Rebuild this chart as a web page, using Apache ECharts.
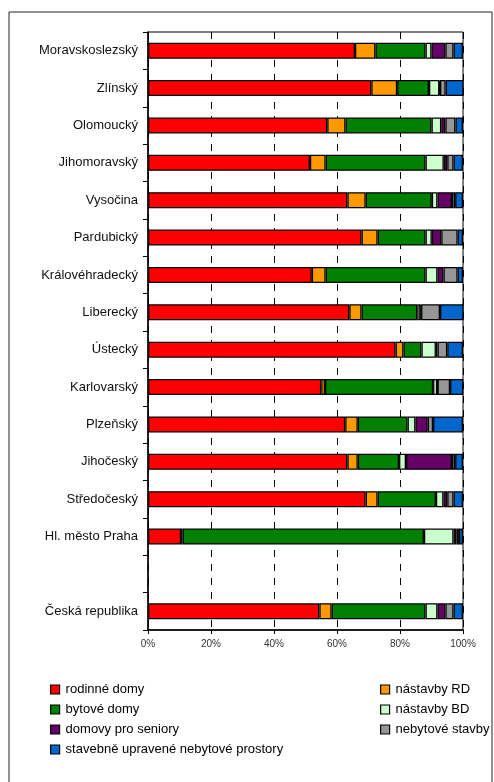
<!DOCTYPE html>
<html>
<head>
<meta charset="utf-8">
<script src="https://cdn.jsdelivr.net/npm/echarts@6/dist/echarts.min.js"></script>
<style>
html,body{margin:0;padding:0;background:#fff;}
#c{width:494px;height:782px;}
</style>
</head>
<body>
<div id="c"></div>
<script>
const categories = ['Moravskoslezský','Zlínský','Olomoucký','Jihomoravský','Vysočina','Pardubický','Královéhradecký','Liberecký','Ústecký','Karlovarský','Plzeňský','Jihočeský','Středočeský','Hl. město Praha','','Česká republika'];

const rodinneDomy   = [65.7, 70.9, 56.9, 51.4, 63.3, 67.8, 52.0, 63.9, 78.6, 55.0, 62.6, 63.3, 69.1, 10.5, null, 54.4];
const nastavbyRD    = [ 6.5,  8.2,  5.8,  5.0,  5.8,  5.1,  4.4,  3.9,  2.5,  1.2,  4.0,  3.3,  3.8,  0.5, null,  3.9];
const bytoveDomy    = [15.9, 10.1, 27.3, 31.7, 21.0, 15.2, 31.7, 17.7,  5.7, 34.3, 15.8, 13.1, 18.5, 76.6, null, 29.8];
const nastavbyBD    = [ 1.9,  3.3,  3.1,  5.8,  1.8,  2.0,  3.8,  1.0,  4.6,  1.3,  2.5,  2.2,  2.4,  9.4, null,  3.8];
const domovySeniory = [ 4.4,  0.2,  1.3,  1.1,  4.6,  3.0,  1.9,  0.2,  0.5,  0.1,  3.9, 14.6,  1.2,  0.9, null,  2.5];
const nebytoveStavby= [ 2.6,  1.8,  3.2,  2.0,  1.0,  5.2,  4.5,  6.0,  3.1,  4.0,  1.7,  1.0,  2.0,  0.8, null,  2.6];
const stavebneUpr   = [ 3.0,  5.7,  2.4,  3.0,  2.5,  1.7,  1.7,  7.5,  5.0,  4.2,  9.5,  2.5,  3.0,  1.3, null,  3.0];

const xTicks = [0, 20, 40, 60, 80, 100];

const seriesDefs = [
  ['rodinné domy', rodinneDomy, '#FF0000'],
  ['nástavby RD', nastavbyRD, '#FF9900'],
  ['bytové domy', bytoveDomy, '#008000'],
  ['nástavby BD', nastavbyBD, '#CCFFCC'],
  ['domovy pro seniory', domovySeniory, '#660066'],
  ['nebytové stavby', nebytoveStavby, '#969696'],
  ['stavebně upravené nebytové prostory', stavebneUpr, '#0066CC']
];

const chart = echarts.init(document.getElementById('c'), null, {renderer:'canvas'});
const FONT = 'Liberation Sans, Arial, sans-serif';

const legendCommon = {
  orient: 'vertical',
  itemWidth: 9, itemHeight: 9, itemGap: 7,
  icon: 'rect',
  itemStyle: {borderColor: '#000', borderWidth: 1.2},
  textStyle: {fontFamily: FONT, fontSize: 13, color: '#000', padding: [0,0,0,1]},
  selectedMode: false
};

chart.setOption({
  animation: false,
  backgroundColor: '#fff',
  graphic: [{
    type: 'rect', shape: {x: 9, y: 12, width: 483, height: 800},
    style: {fill: 'none', stroke: '#222', lineWidth: 1}, silent: true, z: 100
  }],
  grid: {left: 148, right: 31, top: 32, bottom: 152, show: true, borderColor: '#000', borderWidth: 1},
  legend: [
    Object.assign({}, legendCommon, {left: 45, top: 678, data: ['rodinné domy','bytové domy','domovy pro seniory','stavebně upravené nebytové prostory']}),
    Object.assign({}, legendCommon, {left: 375, top: 678, data: ['nástavby RD','nástavby BD','nebytové stavby']})
  ],
  xAxis: {
    type: 'value', min: 0, max: 100, interval: 20,
    axisLine: {show: true, lineStyle: {color: '#000', width: 1.5}},
    axisTick: {show: true, length: 4, lineStyle: {color: '#000'}},
    axisLabel: {formatter: v => xTicks.includes(v) ? v + '%' : '', fontFamily: FONT, fontSize: 10, color: '#333', margin: 9},
    splitLine: {show: true, lineStyle: {color: '#000', type: [7, 7], width: 1}}
  },
  yAxis: {
    type: 'category', data: categories, inverse: true,
    axisLine: {show: true, lineStyle: {color: '#000', width: 1.5}},
    axisTick: {show: true, length: 5, lineStyle: {color: '#000'}},
    axisLabel: {fontFamily: FONT, fontSize: 13, color: '#111', margin: 10},
    splitLine: {show: false}
  },
  series: seriesDefs.map(([name, data, color]) => ({
    name, type: 'bar', stack: 'total', data,
    barWidth: 16,
    itemStyle: {color, borderColor: '#000', borderWidth: 1.3},
    emphasis: {disabled: true}
  }))
});
</script>
</body>
</html>
